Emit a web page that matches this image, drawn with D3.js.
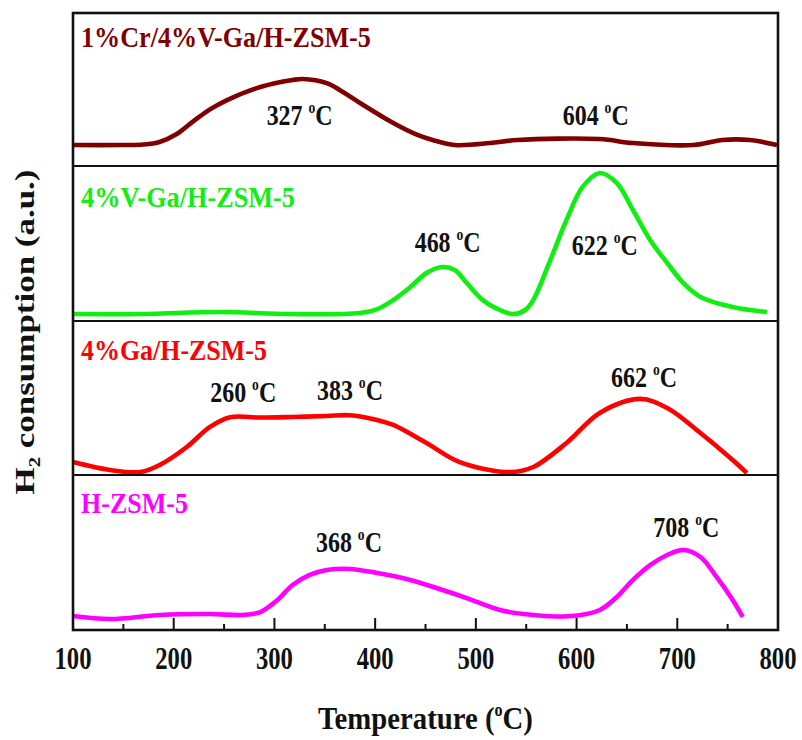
<!DOCTYPE html>
<html>
<head>
<meta charset="utf-8">
<script src="https://cdn.jsdelivr.net/npm/d3@7/dist/d3.min.js"></script>
<style>
  html, body { margin: 0; padding: 0; background: #fff; }
  svg { display: block; }
  text { font-family: "Liberation Serif", "Times New Roman", serif; }
</style>
</head>
<body>
<svg id="chart" width="802" height="740"></svg>
<script>
// ---------- DATA ----------
const samples = ["1%Cr/4%V-Ga/H-ZSM-5", "4%V-Ga/H-ZSM-5", "4%Ga/H-ZSM-5", "H-ZSM-5"];
const colors = ["#800000", "#11ee11", "#ff0000", "#ff00ff"];
const xTicks = [100, 200, 300, 400, 500, 600, 700, 800];

// Temperature (°C) and signal (a.u., % of panel height)
const tCrV = [100,150,170,186,203,219,236,253,286,318,328,352,368,385,418,442,457,479,514,541,623,656,716,745,772,799];
const vCrV = [13.7,13.7,14.0,15.7,20.9,29.0,37.0,43.1,51.6,56.2,56.9,54.2,48.4,41.2,28.1,20.3,17.0,13.7,15.0,17.0,17.6,15.0,13.7,17.0,17.0,13.7];

const tV = [100,170,246,315,385,402,418,435,451,467,479,491,507,524,537,549,557,574,590,606,623,640,656,673,690,706,723,755,789];
const vV = [4.5,4.5,5.8,4.5,5.2,7.7,13.5,21.9,31.0,34.8,32.9,24.5,13.5,7.1,4.5,7.1,13.5,39.4,65.2,86.5,95.5,89.0,71.6,52.3,37.4,24.5,15.5,9.0,5.8];

const tGa = [100,137,167,186,213,236,256,286,318,352,375,402,418,451,484,534,557,590,623,663,690,723,755,769];
const vGa = [8.4,3.2,1.9,6.5,18.2,31.2,37.5,37.3,37.7,38.3,38.8,35.7,32.5,20.8,8.4,1.9,5.2,20.8,40.3,49.4,43.5,27.3,9.7,1.3];

const tH = [100,137,186,236,269,286,303,318,335,352,375,402,435,467,491,524,557,596,623,640,656,673,690,706,723,739,755,765];
const vH = [9.0,7.1,9.7,10.3,9.7,11.6,19.4,29.0,35.5,38.7,39.4,36.8,32.3,25.8,20.6,12.9,9.7,9.0,12.9,21.3,32.3,41.9,48.4,51.6,47.1,34.2,19.4,8.4];

// Peak annotations: [temperature label, x position (°C), y position (a.u.)]
const peaksCrV = [["327", 325, 26.8], ["604", 619, 26.8]];
const peaksV   = [["468", 472, 44.5], ["622", 628, 42.6]];
const peaksGa  = [["260", 269, 47.4], ["383", 375, 48.7], ["662", 667, 57.1]];
const peaksH   = [["368", 374, 50.3], ["708", 709, 60.0]];

const seriesT = [tCrV, tV, tGa, tH];
const seriesV = [vCrV, vV, vGa, vH];
const seriesPeaks = [peaksCrV, peaksV, peaksGa, peaksH];

// ---------- LAYOUT ----------
const left = 73, right = 778;
const panelEdges = [13, 166, 321, 475, 630];
const labelOffsets = [34, 41, 39, 38];
const labelWidths = [290, 214, 186, 107];

const svg = d3.select("#chart");
const x = d3.scaleLinear().domain([100, 800]).range([left, right]);

function fitX(sel, targetW) {
  sel.each(function() {
    const node = this;
    const w = node.getBBox().width;
    const s = w > 0 ? targetW / w : 1;
    const base = node.getAttribute("data-base") || "";
    node.setAttribute("transform", base + " scale(" + s + ",1)");
  });
}

samples.forEach((name, i) => {
  const top = panelEdges[i], bottom = panelEdges[i + 1];
  const y = d3.scaleLinear().domain([0, 100]).range([bottom, top]);
  const pts = seriesT[i].map((t, k) => [t, seriesV[i][k]]);
  const line = d3.line().x(d => x(d[0])).y(d => y(d[1])).curve(d3.curveCatmullRom.alpha(0.5));
  svg.append("path")
    .attr("d", line(pts))
    .attr("fill", "none")
    .attr("stroke", colors[i])
    .attr("stroke-width", 4.6)
    .attr("stroke-linejoin", "round")
    .attr("stroke-linecap", "butt");

  // sample label
  const lab = svg.append("text")
    .attr("data-base", `translate(${left + 8},${top + labelOffsets[i]})`)
    .attr("font-size", 30)
    .attr("font-weight", "bold")
    .attr("fill", colors[i])
    .text(name);
  fitX(lab, labelWidths[i]);

  // peak annotations
  seriesPeaks[i].forEach(p => {
    const t = svg.append("text")
      .attr("data-base", `translate(${x(p[1])},${y(p[2])})`)
      .attr("text-anchor", "middle")
      .attr("font-size", 30)
      .attr("font-weight", "bold")
      .attr("fill", "#111");
    t.append("tspan").text(p[0] + " ");
    t.append("tspan").attr("font-size", 17).attr("dy", -12).text("o");
    t.append("tspan").attr("dy", 12).text("C");
    fitX(t, 66);
  });
});

// dividers
panelEdges.slice(1, -1).forEach(e => {
  svg.append("line")
    .attr("x1", left).attr("x2", right)
    .attr("y1", e).attr("y2", e)
    .attr("stroke", "#111").attr("stroke-width", 2.2);
});

// frame
svg.append("rect")
  .attr("x", left).attr("y", panelEdges[0])
  .attr("width", right - left).attr("height", panelEdges[4] - panelEdges[0])
  .attr("fill", "none").attr("stroke", "#111").attr("stroke-width", 2.6);

// ticks (inward)
const axisY = panelEdges[4];
const minor = d3.range(150, 800, 100);
svg.append("g").selectAll("line.major").data(xTicks.slice(1, -1)).join("line")
  .attr("x1", d => x(d)).attr("x2", d => x(d))
  .attr("y1", axisY).attr("y2", axisY - 12)
  .attr("stroke", "#111").attr("stroke-width", 2);
svg.append("g").selectAll("line.minor").data(minor).join("line")
  .attr("x1", d => x(d)).attr("x2", d => x(d))
  .attr("y1", axisY).attr("y2", axisY - 6)
  .attr("stroke", "#111").attr("stroke-width", 2);

// tick labels
xTicks.forEach(t => {
  const tl = svg.append("text")
    .attr("data-base", `translate(${x(t)},669)`)
    .attr("text-anchor", "middle")
    .attr("font-size", 32)
    .attr("font-weight", "bold")
    .attr("fill", "#111")
    .text(String(t));
  fitX(tl, 37);
});

// x title
const xt = svg.append("text")
  .attr("data-base", `translate(${(left + right) / 2},729)`)
  .attr("text-anchor", "middle")
  .attr("font-size", 32)
  .attr("font-weight", "bold")
  .attr("fill", "#111");
xt.append("tspan").text("Temperature (");
xt.append("tspan").attr("font-size", 18).attr("dy", -13).text("o");
xt.append("tspan").attr("dy", 13).text("C)");
fitX(xt, 215);

// y title
const yt = svg.append("text")
  .attr("data-base", `translate(34,332) rotate(-90)`)
  .attr("text-anchor", "middle")
  .attr("font-size", 27)
  .attr("font-weight", "bold")
  .attr("fill", "#111");
yt.append("tspan").text("H");
yt.append("tspan").attr("font-size", 16).attr("dy", 6).text("2");
yt.append("tspan").attr("dy", -6).text(" consumption (a.u.)");
fitX(yt, 325);
</script>
</body>
</html>
